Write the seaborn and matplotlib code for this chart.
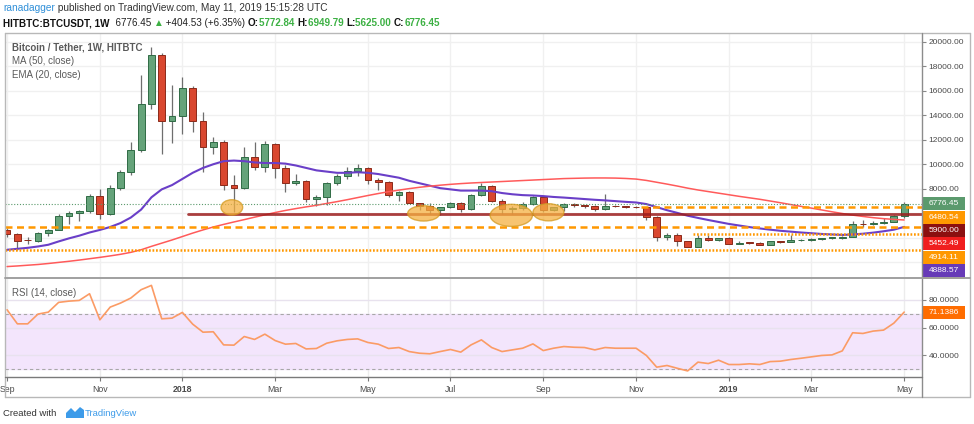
import seaborn as sns
import matplotlib.pyplot as plt
import matplotlib.dates as mdates
from matplotlib.patches import Ellipse, Rectangle, Polygon
from matplotlib.lines import Line2D
import numpy as np
import pandas as pd

W, H = 974, 424

# weekly candles, HITBTC BTC/USDT, Sep 2017 - May 2019
weeks = pd.date_range("2017-09-04", periods=88, freq="7D")
opens = [4600, 4300, 3850, 3720, 4420, 4620, 5750, 6050, 6150, 7380,
         5900, 8100, 9400, 11200, 14900, 18900, 13500, 13900, 16200, 13550,
         11400, 11850, 8270, 8100, 10600, 9800, 11650, 9720, 8500, 8650,
         7130, 7300, 8500, 9050, 9420, 9700, 8750, 8520, 7480, 7720,
         6800, 6560, 6280, 6500, 6860, 6320, 7490, 8230, 7030, 6320,
         6450, 6750, 7300, 6270, 6490, 6730, 6650, 6600, 6350, 6600,
         6560, 6510, 6490, 5680, 4100, 4200, 3700, 3280, 4020, 3830,
         4010, 3520, 3600, 3580, 3430, 3700, 3660, 3800, 3840, 3900,
         3990, 4010, 4100, 5150, 5090, 5230, 5300, 5772.84]
highs = [4800, 4400, 4100, 4450, 4680, 5900, 6200, 6300, 7600, 7950,
         8300, 9500, 11800, 17300, 19600, 19100, 16500, 17100, 16400, 14300,
         12250, 12000, 9150, 11400, 11800, 11900, 11700, 9900, 9200, 8700,
         7500, 8550, 9200, 9750, 10050, 9800, 8900, 8600, 7800, 7800,
         6850, 6850, 6550, 6900, 6900, 7600, 8500, 8300, 7150, 6600,
         6900, 7400, 7400, 6550, 6800, 6800, 6700, 6650, 7600, 6650,
         6600, 6600, 6550, 5750, 4400, 4350, 3750, 4230, 4230, 4000,
         4100, 3700, 3650, 3620, 3700, 3750, 4220, 3900, 3950, 4000,
         4050, 4150, 5350, 5450, 5350, 5650, 5850, 6949.79]
lows = [4100, 3000, 3500, 3650, 4150, 4600, 5100, 5400, 6000, 5500,
        5850, 7900, 9100, 11000, 14500, 10800, 11700, 12500, 12600, 9400,
        10800, 7900, 6100, 8000, 9500, 9400, 8900, 7700, 8300, 6900,
        6600, 6700, 8300, 8800, 9000, 8400, 7900, 7300, 7000, 6800,
        6250, 5900, 5850, 6400, 6100, 6300, 7400, 6900, 5950, 5900,
        6300, 6700, 6100, 6150, 6150, 6500, 6450, 6150, 6300, 6500,
        6450, 6400, 5450, 3700, 3850, 3330, 3250, 3250, 3700, 3700,
        3500, 3480, 3500, 3400, 3400, 3600, 3620, 3700, 3700, 3800,
        3900, 3900, 4050, 4900, 5050, 5150, 5250, 5625.00]
closes = [4300, 3720, 3780, 4420, 4620, 5750, 6050, 6150, 7380, 5900,
          8100, 9400, 11200, 14900, 18900, 13500, 13900, 16200, 13550, 11400,
          11850, 8270, 8100, 10600, 9800, 11650, 9720, 8500, 8650, 7130,
          7300, 8500, 9050, 9420, 9700, 8750, 8520, 7480, 7720, 6850,
          6560, 6280, 6500, 6860, 6320, 7490, 8230, 7030, 6320, 6450,
          6750, 7300, 6270, 6490, 6730, 6650, 6600, 6350, 6600, 6560,
          6510, 6490, 5680, 4100, 4200, 3700, 3280, 4020, 3830, 4010,
          3520, 3600, 3580, 3430, 3700, 3660, 3800, 3840, 3900, 3990,
          4010, 4100, 5150, 5090, 5230, 5300, 5772.84, 6776.45]

# MA (50, close) - red line, EMA (20, close) - purple line
ma50 = [1650, 1700, 1760, 1820, 1900, 1990, 2080, 2180, 2290, 2400,
        2520, 2650, 2810, 3020, 3300, 3560, 3820, 4100, 4380, 4640,
        4880, 5090, 5290, 5480, 5680, 5870, 6060, 6230, 6380, 6520,
        6650, 6800, 6950, 7110, 7280, 7450, 7610, 7760, 7890, 8010,
        8120, 8210, 8290, 8360, 8420, 8470, 8510, 8550, 8590, 8630,
        8670, 8710, 8750, 8790, 8830, 8850, 8870, 8880, 8880, 8870,
        8840, 8790, 8680, 8530, 8380, 8220, 8050, 7900, 7770, 7640,
        7510, 7380, 7260, 7140, 7000, 6860, 6710, 6560, 6420, 6270,
        6120, 5980, 5850, 5740, 5640, 5560, 5500, 5452.49]
ema20 = [3020, 3100, 3180, 3290, 3430, 3700, 3950, 4170, 4430, 4640,
         4880, 5200, 5650, 6300, 7300, 7950, 8300, 8800, 9300, 9700,
         10000, 10250, 10300, 10250, 10150, 10100, 10100, 10050, 9900, 9700,
         9500, 9400, 9300, 9300, 9350, 9300, 9200, 9050, 8900, 8650,
         8450, 8250, 8050, 7950, 7850, 7850, 7850, 7800, 7650, 7550,
         7480, 7450, 7400, 7330, 7280, 7220, 7160, 7100, 7050, 6990,
         6930, 6880, 6750, 6500, 6250, 6030, 5800, 5620, 5450, 5290,
         5130, 5000, 4870, 4760, 4660, 4570, 4500, 4430, 4370, 4310,
         4270, 4230, 4270, 4330, 4420, 4530, 4660, 4888.57]
rsi = [72.8, 62.7, 62.7, 69.7, 71.1, 78.1, 79.0, 79.5, 84.3, 65.6,
       74.7, 77.6, 81.2, 87.2, 90.3, 66.3, 66.8, 70.9, 62.5, 56.7,
       57.0, 47.6, 47.4, 53.6, 51.5, 55.3, 50.7, 48.1, 48.6, 44.7,
       45.0, 48.8, 50.5, 51.5, 51.9, 49.3, 48.1, 45.0, 45.7, 42.8,
       41.6, 41.2, 42.8, 44.3, 42.4, 47.6, 51.2, 45.7, 42.8, 44.0,
       45.2, 48.3, 43.5, 45.2, 46.4, 45.9, 45.7, 44.0, 45.7, 45.2,
       45.2, 45.2, 40.0, 31.6, 32.8, 30.8, 28.9, 35.2, 34.2, 36.6,
       33.5, 33.5, 34.0, 33.5, 35.6, 35.9, 37.1, 38.0, 39.0, 40.0,
       40.4, 43.3, 56.3, 55.8, 57.5, 58.2, 63.2, 71.1386]

# drawn horizontal levels: price, start week
level_prices = [6776.45, 6480.54, 5900.00, 4914.11, 4340.00, 3040.00]
level_starts = ["2017-09-04", "2018-11-12", "2018-01-08", "2017-09-04", "2018-12-17", "2017-09-04"]
# right-axis price tags
tag_values = [6776.45, 6480.54, 5900.00, 5452.49, 4914.11, 4888.57]
tag_colors = ["#5b9a6d", "#ff9800", "#8b1010", "#f01e1e", "#ff9800", "#673ab7"]

# highlighted support touches (ellipses), in weeks from the first candle
circle_weeks = [21.8, 40.4, 48.9, 52.5]
circle_prices = [6480, 5990, 5830, 6080]
circle_w = [2.1, 3.1, 4.1, 3.0]
circle_h = [1250, 1250, 1800, 1400]

tick_dates = ["2017-09-04", "2017-11-06", "2018-01-01", "2018-03-05", "2018-05-07", "2018-07-02",
              "2018-09-03", "2018-11-05", "2019-01-07", "2019-03-04", "2019-05-06"]
tick_labels = ["Sep", "Nov", "2018", "Mar", "May", "Jul", "Sep", "Nov", "2019", "Mar", "May"]

sns.set_theme(style="white")
plt.rcParams["font.family"] = ["Liberation Sans", "DejaVu Sans"]

x = mdates.date2num(weeks)
df = pd.DataFrame({"x": x, "ma50": ma50, "ema20": ema20, "rsi": rsi})
o = np.array(opens); c = np.array(closes)

fig = plt.figure(figsize=(W / 100, H / 100), dpi=100)
fig.patch.set_facecolor("white")


def fx(px):
    return px / W


def fy(py):
    return 1 - py / H


ax = fig.add_axes([fx(5), fy(278), fx(921.7) - fx(5), fy(33) - fy(278)])
ax_r = fig.add_axes([fx(5), fy(376.5), fx(921.7) - fx(5), fy(278) - fy(376.5)], sharex=ax)

xmin, xmax = x[0] - 0.2 * 7, x[0] + 88.7 * 7
tx = mdates.date2num(pd.to_datetime(tick_dates))

# ---- price pane
for gx in tx:
    ax.axvline(gx, color="#f0f0f0", lw=1, zorder=0)
for gy in range(2000, 20001, 2000):
    ax.axhline(gy, color="#f0f0f0", lw=1, zorder=0)

up = c >= o
ax.vlines(x, lows, highs, color="#6e6e6e", lw=0.9, zorder=2)
body = np.maximum(np.abs(c - o), 45)
ax.bar(x[up], body[up], bottom=np.minimum(o, c)[up], width=4.6, color="#65a37a",
       edgecolor="#2f6b45", lw=0.7, zorder=3)
ax.bar(x[~up], body[~up], bottom=np.minimum(o, c)[~up], width=4.6, color="#d9472f",
       edgecolor="#8b2a1a", lw=0.7, zorder=3)

sns.lineplot(data=df, x="x", y="ema20", ax=ax, color="#6a3fc8", lw=1.5, zorder=4, legend=False)
sns.lineplot(data=df, x="x", y="ma50", ax=ax, color="#ff5a5a", lw=1.1, zorder=4, legend=False)

styles = [dict(color="#5b9a6d", lw=0.8, ls=(0, (1, 1.6))),
          dict(color="#ff9800", lw=1.8, ls=(0, (2.8, 1.8))),
          dict(color="#9b1c1c", lw=2.0, ls="-", alpha=0.85),
          dict(color="#ff9800", lw=1.8, ls=(0, (2.8, 1.8))),
          dict(color="#ff9800", lw=1.8, ls=(0, (0.7, 0.7))),
          dict(color="#ff9800", lw=1.8, ls=(0, (0.7, 0.7)))]
for p, s, st in zip(level_prices, level_starts, styles):
    x0 = mdates.date2num(pd.Timestamp(s))
    x0 = max(x0 - 3.5, xmin)
    ax.plot([x0, xmax], [p, p], zorder=5, **st)

for cw, cp, w, h in zip(circle_weeks, circle_prices, circle_w, circle_h):
    ax.add_patch(Ellipse((x[0] + cw * 7, cp), w * 7, h, facecolor="#f5b041", alpha=0.75,
                         edgecolor="#d49a20", lw=1, zorder=6))

ax.set_xlim(xmin, xmax)
ax.set_ylim(717, 20710)
ax.yaxis.tick_right()
ax.set_yticks(range(2000, 20001, 2000))
ax.set_yticklabels(["%.2f" % v if v >= 8000 else "" for v in range(2000, 20001, 2000)])
ax.tick_params(axis="y", right=True, length=3, width=0.8, color="#888888", labelsize=6,
               labelcolor="#4a4a4a", pad=2)
ax.tick_params(axis="x", bottom=False, labelbottom=False)
ax.set_xlabel(""); ax.set_ylabel("")
for sp in ax.spines.values():
    sp.set_visible(False)

fig.text(fx(12), fy(48), "Bitcoin / Tether, 1W, HITBTC", fontsize=7, weight="bold",
         color="#5a5a5a", va="center")
fig.text(fx(12), fy(61.5), "MA (50, close)", fontsize=7, color="#5a5a5a", va="center")
fig.text(fx(12), fy(75), "EMA (20, close)", fontsize=7, color="#5a5a5a", va="center")

# ---- RSI pane
for gx in tx:
    ax_r.axvline(gx, color="#ececec", lw=1, zorder=0)
ax_r.axhspan(30, 70, color="#f3e5fc", zorder=0)
for gy in [40, 60, 80]:
    ax_r.axhline(gy, color="#e8e2ee", lw=1, zorder=1)
for gy in [30, 70]:
    ax_r.axhline(gy, color="#a8a8a8", lw=0.8, ls=(0, (3, 2.5)), zorder=1)
sns.lineplot(data=df, x="x", y="rsi", ax=ax_r, color="#fb9b65", lw=1.2, zorder=3, legend=False)
ax_r.set_ylim(24.9, 95.6)
ax_r.yaxis.tick_right()
ax_r.set_yticks([40, 60, 80])
ax_r.set_yticklabels(["40.0000", "60.0000", "80.0000"])
ax_r.tick_params(axis="y", right=True, length=3, width=0.8, color="#888888", labelsize=6,
                 labelcolor="#4a4a4a", pad=2)
ax_r.set_xticks(tx)
ax_r.set_xticklabels(tick_labels)
for lbl in ax_r.get_xticklabels():
    if lbl.get_text().isdigit():
        lbl.set_fontweight("bold")
ax_r.tick_params(axis="x", bottom=True, length=3, width=0.8, color="#777777", labelsize=6.3,
                 labelcolor="#4a4a4a", pad=3)
ax_r.set_xlabel(""); ax_r.set_ylabel("")
for sp in ax_r.spines.values():
    sp.set_visible(False)
fig.text(fx(12), fy(293), "RSI (14, close)", fontsize=7, color="#5a5a5a", va="center")


# ---- frame lines
def fline(x0, y0, x1, y1, color, lw):
    fig.add_artist(Line2D([fx(x0), fx(x1)], [fy(y0), fy(y1)], color=color, lw=lw,
                          transform=fig.transFigure))


fline(5, 33, 970, 33, "#b8b8b8", 1)
fline(5, 33, 5, 397, "#b8b8b8", 1)
fline(970, 33, 970, 397, "#b8b8b8", 1)
fline(5, 397, 970, 397, "#b8b8b8", 1)
fline(921.7, 33, 921.7, 397, "#8c8c8c", 1)
fline(5, 278, 970, 278, "#a0a0a0", 1.4)
fline(5, 376.5, 921.7, 376.5, "#7a7a7a", 1)

# ---- right-axis tags (stacked so they do not overlap)
fig.canvas.draw()
prev = -100
for v, col in zip(tag_values, tag_colors):
    py = H - ax.transData.transform((x[0], v))[1]
    py = max(py, prev + 13.4)
    prev = py
    fig.add_artist(Rectangle((fx(922.5), fy(py + 6.5)), fx(965) - fx(922.5), 13 / H,
                             transform=fig.transFigure, facecolor=col, edgecolor="none"))
    fig.text(fx(944), fy(py), "%.2f" % v, fontsize=6, color="white", ha="center", va="center")
fig.add_artist(Rectangle((fx(922.5), fy(279.3)), fx(965) - fx(922.5), 2.5 / H,
                         transform=fig.transFigure, facecolor="#ff9800", edgecolor="none"))
py = H - ax_r.transData.transform((x[0], rsi[-1]))[1]
fig.add_artist(Rectangle((fx(922.5), fy(py + 6.5)), fx(965) - fx(922.5), 13 / H,
                         transform=fig.transFigure, facecolor="#ff6d00", edgecolor="none"))
fig.text(fx(944), fy(py), "%.4f" % rsi[-1], fontsize=6, color="white", ha="center", va="center")

# ---- header
renderer = fig.canvas.get_renderer()


def runs(px, py, parts, size):
    for txt, col, wt in parts:
        t = fig.text(fx(px), fy(py), txt, fontsize=size, color=col, weight=wt, va="center")
        px += t.get_window_extent(renderer=renderer).width


green = "#3cb043"
runs(3, 8, [("ranadagger", "#2f8fd8", "normal"),
            (" published on TradingView.com, May 11, 2019 15:15:28 UTC", "#333333", "normal")], 7.3)
runs(3, 23, [("HITBTC:BTCUSDT, 1W", "#111111", "bold"), ("  6776.45 ", "#222222", "normal"),
             ("▲", green, "normal"), (" +404.53 (+6.35%) ", "#222222", "normal"),
             ("O:", "#111111", "bold"), ("5772.84 ", green, "bold"),
             ("H:", "#111111", "bold"), ("6949.79 ", green, "bold"),
             ("L:", "#111111", "bold"), ("5625.00 ", green, "bold"),
             ("C:", "#111111", "bold"), ("6776.45", green, "bold")], 7.1)

# ---- footer
fig.text(fx(3), fy(413), "Created with", fontsize=6.8, color="#333333", va="center")
fig.add_artist(Polygon([(fx(66), fy(418)), (fx(66), fy(413)), (fx(71), fy(408)), (fx(75), fy(412)),
                        (fx(80), fy(407)), (fx(84), fy(410)), (fx(84), fy(418))],
                       closed=True, transform=fig.transFigure, facecolor="#3d9be9", edgecolor="none"))
fig.text(fx(85), fy(413), "TradingView", fontsize=6.8, color="#3d9be9", va="center")

fig.savefig("out.png", dpi=100, facecolor="white")
